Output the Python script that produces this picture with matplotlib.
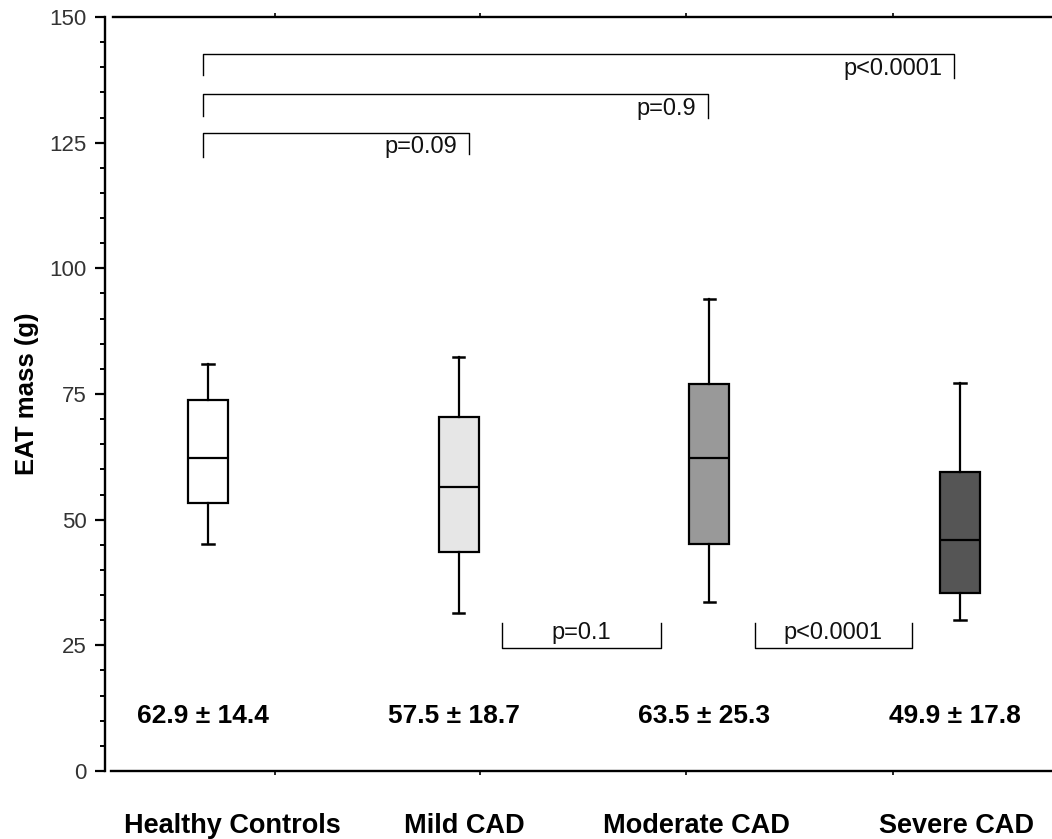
import matplotlib
matplotlib.use('Agg')
import matplotlib.pyplot as plt
from matplotlib.ticker import MultipleLocator

plt.rcParams['font.family'] = ['Liberation Sans', 'DejaVu Sans']

groups = ['Healthy Controls', 'Mild CAD', 'Moderate CAD', 'Severe CAD']
whislo = [45.1, 31.5, 33.6, 30.0]
q1 = [53.4, 43.6, 45.1, 35.5]
med = [62.2, 56.4, 62.2, 46.0]
q3 = [73.8, 70.4, 76.9, 59.5]
whishi = [80.9, 82.3, 93.8, 77.2]
colors = ['#ffffff', '#e6e6e6', '#999999', '#555555']
means = ['62.9 \u00b1 14.4', '57.5 \u00b1 18.7', '63.5 \u00b1 25.3', '49.9 \u00b1 17.8']

# top brackets: left x, right x, line y, left drop, right drop, label
top_brackets = [
    (0.98, 3.976, 142.6, 138.5, 137.9, 'p<0.0001'),
    (0.98, 2.994, 134.6, 130.3, 130.0, 'p=0.9'),
    (0.98, 2.041, 127.0, 122.2, 122.8, 'p=0.09'),
]
low_brackets = [
    (2.173, 2.807, 24.5, 29.4, 'p=0.1'),
    (3.182, 3.808, 24.5, 29.4, 'p<0.0001'),
]

fig = plt.figure(figsize=(10.52, 8.39), dpi=100)
ax = fig.add_axes([105 / 1052, 68 / 839, 1 - 105 / 1052, 754 / 839])

stats = []
for i in range(len(groups)):
    stats.append({'whislo': whislo[i], 'q1': q1[i], 'med': med[i],
                  'q3': q3[i], 'whishi': whishi[i], 'fliers': []})
pos = list(range(1, len(groups) + 1))
bp = ax.bxp(stats, positions=pos, widths=0.16, patch_artist=True,
            showfliers=False, capwidths=0.045,
            boxprops=dict(linewidth=1.6, edgecolor='black'),
            medianprops=dict(color='black', linewidth=1.6),
            whiskerprops=dict(color='black', linewidth=1.6),
            capprops=dict(color='black', linewidth=1.8))
for patch, c in zip(bp['boxes'], colors):
    patch.set_facecolor(c)

ax.set_xlim(0.589, 4.367)
ax.set_ylim(0, 150)

# significance brackets
for x0, x1, y, d0, d1, txt in top_brackets:
    ax.plot([x0, x0, x1, x1], [d0, y, y, d1], color='black', lw=1.0)
    ax.text(x1 - 0.045, y - 2.9, txt, ha='right', va='center', fontsize=17, color='#111111')
for x0, x1, y, d, txt in low_brackets:
    ax.plot([x0, x0, x1, x1], [d, y, y, d], color='black', lw=1.0)
    ax.text((x0 + x1) / 2, 27.4, txt, ha='center', va='center', fontsize=17, color='#111111')

for p, m in zip(pos, means):
    ax.text(p - 0.02, 10.9, m, ha='center', va='center', fontsize=19, fontweight='bold')

label_shift = [0.096, 0.024, -0.052, -0.012]
for p, g, s in zip(pos, groups, label_shift):
    ax.text(p + s, -12.3, g, ha='center', va='baseline', fontsize=19.5, fontweight='bold')

ax.set_ylabel('EAT mass (g)', fontsize=18.5, fontweight='bold', labelpad=8)

ax.yaxis.set_major_locator(MultipleLocator(25))
ax.yaxis.set_minor_locator(MultipleLocator(5))
ax.tick_params(axis='y', which='major', direction='out', length=7, width=1.6,
               labelsize=16, labelcolor='#333333', pad=6)
ax.tick_params(axis='y', which='minor', direction='out', length=3.5, width=1.4)

ax.set_xticks([1.267, 2.085, 2.907, 3.732])
ax.set_xticklabels([])
ax.tick_params(axis='x', which='major', direction='out', length=3, width=1.2,
               top=True, bottom=True)

for s in ['left', 'bottom', 'top']:
    ax.spines[s].set_linewidth(1.7)
ax.spines['right'].set_visible(False)
ax.spines['bottom'].set_bounds(0.612, 4.367)
ax.spines['top'].set_bounds(0.62, 4.367)

fig.savefig('out.png', dpi=100)
